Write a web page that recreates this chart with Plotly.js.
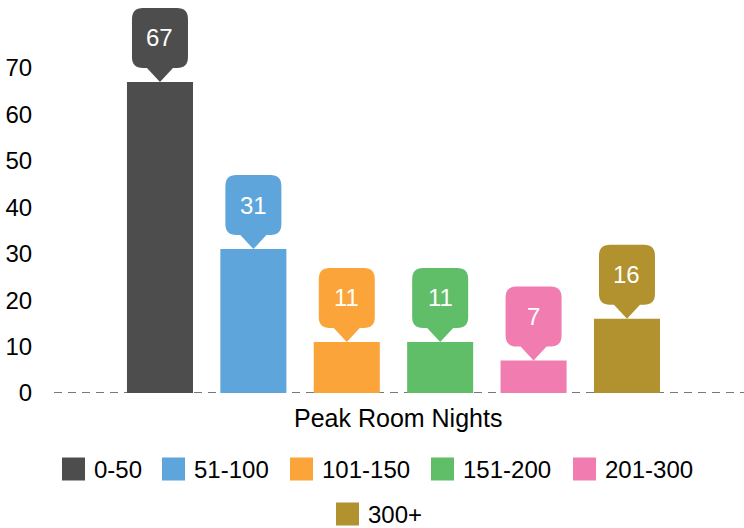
<!DOCTYPE html>
<html>
<head>
<meta charset="utf-8">
<script src="https://cdn.plot.ly/plotly-3.0.1.min.js"></script>
<style>html,body{margin:0;padding:0;background:#fff;}#chart{width:744px;height:528px;}</style>
</head>
<body>
<div id="chart"></div>
<script>
// ---- data ----
const categories = ['0-50', '51-100', '101-150', '151-200', '201-300', '300+'];
const counts = [67, 31, 11, 11, 7, 16];
const colors = ['#4d4d4d', '#5da5da', '#faa43a', '#60bd68', '#f17cb0', '#b2912f'];
const yTickVals = [0, 10, 20, 30, 40, 50, 60, 70];
const xTitle = 'Peak Room Nights';

// ---- geometry ----
const W = 744, H = 528;
const FONT = 'Liberation Sans, Arial, sans-serif';
const plotLeft = 55, plotBottom = 393, plotTop = 0;
const xRange = [-1.124, 6.253];
const yRange = [0, (plotBottom - plotTop) / 4.643];

const traces = categories.map((c, i) => ({
  type: 'bar',
  name: c,
  x: [i],
  y: [counts[i]],
  width: 0.707,
  marker: {color: colors[i], line: {width: 0}},
  showlegend: false,
  hoverinfo: 'skip'
}));

// callout bubble path in pixels relative to bar top (tip at 0,0, y positive up)
function bubblePath() {
  const w = 28, r = 11, bot = 14, top = 74, tw = 13;
  return 'M0,0 L' + (-tw) + ',' + bot +
    ' L' + (-w + r) + ',' + bot +
    ' Q' + (-w) + ',' + bot + ' ' + (-w) + ',' + (bot + r) +
    ' L' + (-w) + ',' + (top - r) +
    ' Q' + (-w) + ',' + top + ' ' + (-w + r) + ',' + top +
    ' L' + (w - r) + ',' + top +
    ' Q' + w + ',' + top + ' ' + w + ',' + (top - r) +
    ' L' + w + ',' + (bot + r) +
    ' Q' + w + ',' + bot + ' ' + (w - r) + ',' + bot +
    ' L' + tw + ',' + bot + ' Z';
}

const shapes = [];
const annotations = [];

// dashed zero line (under the bars)
shapes.push({
  type: 'line', xref: 'paper', yref: 'y', x0: 54 / W, x1: 1, y0: 0, y1: 0,
  line: {color: '#777777', width: 2, dash: '8px,6px'}, layer: 'below'
});

categories.forEach((c, i) => {
  shapes.push({
    type: 'path', xref: 'x', yref: 'y',
    xsizemode: 'pixel', ysizemode: 'pixel',
    xanchor: i, yanchor: counts[i],
    path: bubblePath(),
    fillcolor: colors[i], line: {width: 0}, layer: 'above'
  });
  annotations.push({
    xref: 'x', yref: 'y', x: i, y: counts[i], yshift: 44,
    text: String(counts[i]), showarrow: false,
    font: {family: FONT, size: 24, color: '#ffffff'},
    xanchor: 'center', yanchor: 'middle'
  });
});

// legend (manual, to get large square swatches)
const legendPos = [
  {sx: 62, row: 469}, {sx: 162, row: 469}, {sx: 290, row: 469},
  {sx: 431, row: 469}, {sx: 573, row: 469}, {sx: 336, row: 514}
];
categories.forEach((c, i) => {
  const p = legendPos[i];
  shapes.push({
    type: 'rect', xref: 'paper', yref: 'paper',
    x0: p.sx / W, x1: (p.sx + 23) / W,
    y0: 1 - (p.row + 11.5) / H, y1: 1 - (p.row - 11.5) / H,
    fillcolor: colors[i], line: {width: 0}
  });
  annotations.push({
    xref: 'paper', yref: 'paper', x: (p.sx + 30) / W, y: 1 - p.row / H,
    xanchor: 'left', yanchor: 'middle', showarrow: false,
    text: c, font: {family: FONT, size: 24, color: '#000000'}
  });
});

// x axis title
annotations.push({
  xref: 'paper', yref: 'paper', x: 398 / W, y: 1 - 418 / H,
  xanchor: 'center', yanchor: 'middle', showarrow: false,
  text: xTitle, font: {family: FONT, size: 25, color: '#000000'}
});

const layout = {
  width: W, height: H,
  margin: {l: 0, r: 0, t: 0, b: 0},
  paper_bgcolor: '#ffffff', plot_bgcolor: '#ffffff',
  barmode: 'overlay',
  showlegend: false,
  xaxis: {
    domain: [plotLeft / W, 1], range: xRange,
    showgrid: false, zeroline: false, showticklabels: false, showline: false, fixedrange: true
  },
  yaxis: {
    domain: [1 - plotBottom / H, 1 - plotTop / H], range: yRange,
    tickvals: yTickVals, ticktext: yTickVals.map(String),
    showgrid: false, zeroline: false, showline: false,
    ticks: 'outside', ticklen: 17, tickcolor: 'rgba(0,0,0,0)',
    tickfont: {family: FONT, size: 24, color: '#000000'}, fixedrange: true
  },
  shapes: shapes,
  annotations: annotations,
  font: {family: FONT}
};

Plotly.newPlot('chart', traces, layout, {displayModeBar: false, staticPlot: true});
</script>
</body>
</html>
